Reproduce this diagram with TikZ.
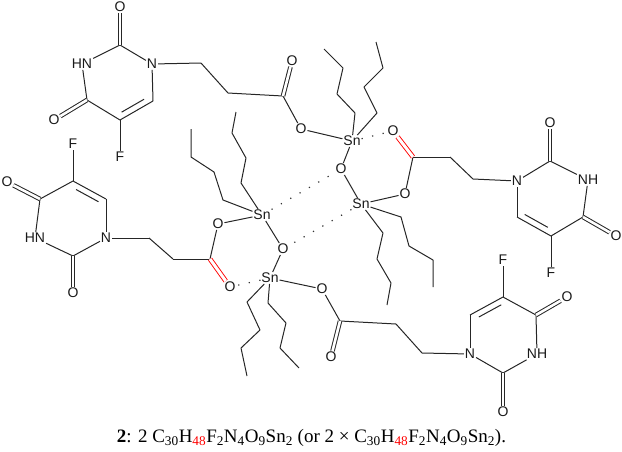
\documentclass[tikz,border=0pt]{standalone}
\usepackage{fontspec}
\setmainfont{Liberation Serif}
\newfontfamily\atomfont{Liberation Sans}
\usetikzlibrary{calc}
\tikzstyle{atom} = [font=\atomfont\fontsize{14}{14}\selectfont,inner sep=0.8pt,text=black!90]
\tikzstyle{bond} = [draw,line width=1pt,-,black!85,line join=round]
\tikzstyle{dblbond} = [draw=black!85,line width=1pt,double,double distance=2.6pt,-]
\tikzstyle{redbond} = [draw=red,line width=0.9pt,double,double distance=3pt,-]
\tikzstyle{weak} = [draw,line width=1.2pt,-,black!80,dash pattern=on 1.2pt off 9.6pt]
\begin{document}
\begin{tikzpicture}[x=1pt,y=-1pt]
      \useasboundingbox (0,0) rectangle (622,451);
      %atoms
      \foreach \nodename/\x/\y/\label in {
        ao/120/7/O, an/82/64/HN, am/152/64/N, ap/54/120/O, af/120/157/F, aq/292/61/O, ar/301/129/O,
        bo/550/123/O, bn/517/181/N, bm/588/180/NH, bp/616/236/O, bf/551/273/F, bq/393/131/O, br/405/194/O,
        co/73/293/O, cn/35/238/HN, cm/106/238/N, cp/7/182/O, cf/73/144/F, cq/230/287/O, cr/218/224/O,
        do/503/412/O, dn/470/354/N, dm/537/354/NH, dp/567/297/O, df/503/260/F, dq/331/357/O, dr/322/289/O,
        sa/352/141/Sn, sb/361/204/Sn, sc/262/215/Sn, sd/270/278/Sn, oa/341/169/O, ob/283/249/O}
      {
        \node[atom] (\nodename) at (\x,\y) {\label};
      };
      %carbons
      \foreach \nodename/\x/\y in {
        a2/120/45, a4/87/100, a5/120/120, a6/153/101, a7/201/63, a8/228/93, a9/283/96,
        b2/550/161, b4/583/217, b5/551/236, b6/517/217, b7/473/179, b8/450/157, b9/413/157,
        c2/73/256, c4/40/199, c5/73/181, c6/106/199, c7/149/238, c8/173/259, c9/210/259,
        d2/503/373, d4/536/315, d5/503/297, d6/470/315, d7/422/353, d8/396/324, d9/340/321,
        e1/355/113, e2/337/94, e3/343/68, e4/324/49, f1/377/113, f2/364/87, f3/383/68, f4/376/42,
        g1/401/217, g2/409/246, g3/433/260, g4/433/287, h1/383/233, h2/377/259, h3/391/283, h4/387/305,
        i1/223/200, i2/214/172, i3/191/157, i4/191/129, j1/241/183, j2/246/158, j3/232/133, j4/236/112,
        k1/247/302, k2/260/330, k3/241/348, k4/247/376, l1/268/303, l2/286/323, l3/280/348, l4/299/368}
      {
        \coordinate (\nodename) at (\x,\y);
      };
      %rings and chains
      \path
      \foreach \startnode/\endnode in {
        a2/an, a2/am, an/a4, a4/a5, a5/a6, a6/am, a5/af, am/a7, a7/a8, a8/a9, a9/ar, ar/sa,
        b2/bn, b2/bm, bm/b4, b4/b5, b5/b6, b6/bn, b5/bf, bn/b7, b7/b8, b8/b9, b9/br, br/sb,
        c2/cn, c2/cm, cn/c4, c4/c5, c5/c6, c6/cm, c5/cf, cm/c7, c7/c8, c8/c9, c9/cr, cr/sc,
        d2/dn, d2/dm, dm/d4, d4/d5, d5/d6, d6/dn, d5/df, dn/d7, d7/d8, d8/d9, d9/dr, dr/sd,
        sa/oa, oa/sb, sc/ob, ob/sd}
      {
        (\startnode) edge[bond] (\endnode)
      };
      %butyl groups
      \foreach \first/\metal in {e/sa, f/sa, g/sb, h/sb, i/sc, j/sc, k/sd, l/sd}
        \draw[bond] (\metal) -- (\first1) -- (\first2) -- (\first3) -- (\first4);
      %carbonyls
      \path
      \foreach \startnode/\endnode in {a2/ao, a4/ap, a9/aq, b2/bo, b4/bp, c2/co, c4/cp, d2/do, d4/dp, d9/dq}
      {
        (\startnode) edge[dblbond] (\endnode)
      };
      \path
      \foreach \startnode/\endnode in {b9/bq, c9/cq}
      {
        (\startnode) edge[redbond] (\endnode)
      };
      %inner lines of the C=C bonds
      \foreach \startnode/\endnode in {a5/a6, b6/b5, c6/c5, d5/d6}
        \draw[bond] ($(\startnode)!.14!(\endnode)!6pt!90:(\endnode)$) -- ($(\startnode)!.82!(\endnode)!6pt!90:(\endnode)$);
      %weak contacts
      \path
      \foreach \startnode/\endnode in {sa/bq, sc/oa, sb/ob, sd/cq}
      {
        (\startnode) edge[weak] (\endnode)
      };
      \node[font=\fontsize{19}{19}\selectfont,inner sep=0pt] (caption) at (311.5,438) {\textbf{2}: 2 C\textsubscript{30}H\textsubscript{\textcolor{red}{48}}F\textsubscript{2}N\textsubscript{4}O\textsubscript{9}Sn\textsubscript{2} (or 2 × C\textsubscript{30}H\textsubscript{\textcolor{red}{48}}F\textsubscript{2}N\textsubscript{4}O\textsubscript{9}Sn\textsubscript{2}).};
\end{tikzpicture}
\end{document}
